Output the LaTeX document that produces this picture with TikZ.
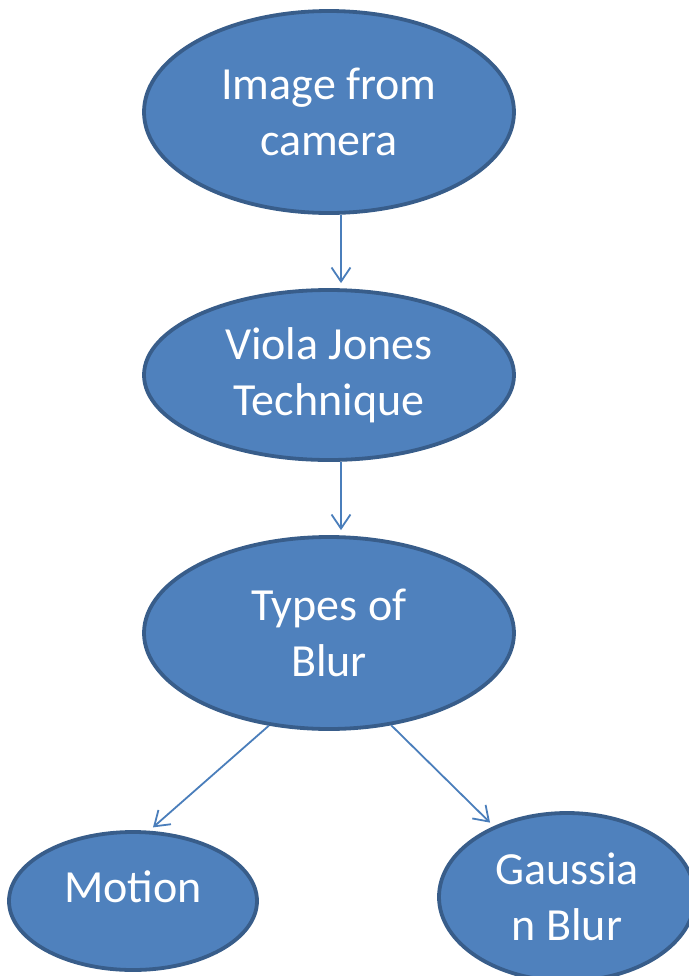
\documentclass[tikz,border=0pt]{standalone}
\usepackage{fontspec}
\setmainfont{Carlito}
\usetikzlibrary{shapes.geometric,arrows.meta}
\definecolor{boxfill}{HTML}{4F81BD}
\definecolor{boxedge}{HTML}{385D8A}
\definecolor{linkcol}{HTML}{4A7EBB}

\begin{document}
\begin{tikzpicture}[
    x=0.5pt, y=-0.5pt,
    font=\fontsize{23}{28}\selectfont,
    stage/.style={ellipse, draw=boxedge, fill=boxfill, line width=1.9pt,
                  text=white, align=center, inner sep=0pt},
    arrow/.style={-{Straight Barb[length=7pt,width=9.5pt]}, draw=linkcol,
                  line width=0.9pt, shorten >=2.5pt}
]
    \clip (0,0) rectangle (689,976);

    \node[stage, minimum width=185pt, minimum height=101pt] (camera) at (329,112) {Image from\\camera};
    \node[stage, minimum width=185pt, minimum height=85pt] (viola) at (329,375) {Viola Jones\\Technique};
    \node[stage, minimum width=185pt, minimum height=96pt] (blur) at (329,633) {Types of\\Blur};
    \node[stage, minimum width=124pt, minimum height=69pt, text height=8pt, text depth=7pt] (motion) at (133,901) {Motion};
    \node[stage, minimum width=128pt, minimum height=84pt] (gauss) at (567,897) {Gaussia\\n Blur};

    \draw[arrow] ([xshift=6pt]camera.south) -- ([xshift=6pt]viola.north);
    \draw[arrow] ([xshift=6pt]viola.south) -- ([xshift=6pt]blur.north);
    \draw[arrow] (blur.-123.6) -- (motion.77.6);
    \draw[arrow] (blur.-56.9) -- (gauss.136.6);
\end{tikzpicture}
\end{document}
